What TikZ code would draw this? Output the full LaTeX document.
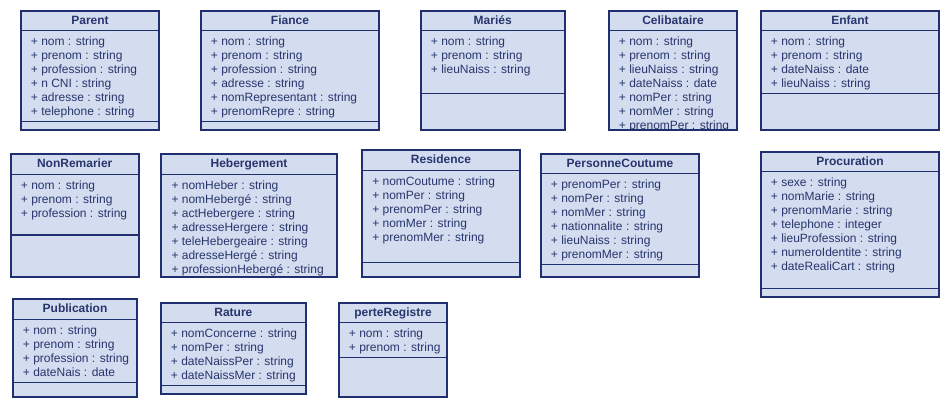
\documentclass[tikz,border=0pt]{standalone}
\usepackage{fontspec}
\setmainfont{Liberation Sans}
\usepackage{xcolor,tikz}
\usetikzlibrary{positioning}
\definecolor{umlfill}{HTML}{D4DDF0}
\definecolor{umlline}{HTML}{1F2F6F}
\definecolor{umltext}{HTML}{28356C}
\tikzset{classbody/.style={fill=umlfill},
  classframe/.style={draw=umlline,line width=1.4pt},
  classrule/.style={draw=umlline,line width=1pt},
  classtitle/.style={anchor=base,inner sep=0pt,text=umltext,font=\fontsize{9}{10.5}\selectfont\bfseries},
  attr/.style={anchor=base west,inner sep=0pt,text=umltext,font=\fontsize{9}{10.5}\selectfont}}

\begin{document}
\begin{tikzpicture}[x=0.75pt,y=-0.75pt]
\useasboundingbox (0,0) rectangle (951,409);
\foreach \nm/\xa/\ya/\xb/\yb/\yh/\ys/\ttl/\attrs in {
 parent/20.7/10.7/159.3/130/30.7/121.3/Parent/{+ nom : string,+ prenom : string,+ profession : string,+ n CNI : string,+ adresse : string,+ telephone : string},
 fiance/200.7/10.7/379.3/130/30.7/121.3/Fiance/{+ nom : string,+ prenom : string,+ profession : string,+ adresse : string,+ nomRepresentant : string,+ prenomRepre : string},
 maries/420.7/10.7/564.7/130/30.7/93.3/Mariés/{+ nom : string,+ prenom : string,+ lieuNaiss : string},
 celib/608.7/10.7/737.3/130/30.7/130/Celibataire/{+ nom : string,+ prenom : string,+ lieuNaiss : string,+ dateNaiss : date,+ nomPer : string,+ nomMer : string,+ prenomPer : string},
 enfant/760.7/10.7/939.3/130/30.7/93.3/Enfant/{+ nom : string,+ prenom : string,+ dateNaiss : date,+ lieuNaiss : string},
 nonremar/10.7/154.3/138.7/277.3/174.3/235/NonRemarier/{+ nom : string,+ prenom : string,+ profession : string},
 heberg/161.3/154.3/336.7/277.3/174.3/277.3/Hebergement/{+ nomHeber : string,+ nomHebergé : string,+ actHebergere : string,+ adresseHergere : string,+ teleHebergeaire : string,+ adresseHergé : string,+ professionHebergé : string},
 resid/362/150.3/520/277/170.3/262.3/Residence/{+ nomCoutume : string,+ nomPer : string,+ prenomPer : string,+ nomMer : string,+ prenomMer : string},
 perscout/540.7/153.7/699.3/277/173.7/264.3/PersonneCoutume/{+ prenomPer : string,+ nomPer : string,+ nomMer : string,+ nationnalite : string,+ lieuNaiss : string,+ prenomMer : string},
 procur/760.7/151.7/939.3/297/171.7/288.3/Procuration/{+ sexe : string,+ nomMarie : string,+ prenomMarie : string,+ telephone : integer,+ lieuProfession : string,+ numeroIdentite : string,+ dateRealiCart : string},
 public/12.7/299.3/137.3/397.3/319.3/382.7/Publication/{+ nom : string,+ prenom : string,+ profession : string,+ dateNais : date},
 rature/160.7/302.7/306/394/322.7/385.3/Rature/{+ nomConcerne : string,+ nomPer : string,+ dateNaissPer : string,+ dateNaissMer : string},
 perte/338.7/302.7/447.3/397.3/322.7/357.3/perteRegistre/{+ nom : string,+ prenom : string}} {
 \fill[classbody] (\xa,\ya) rectangle (\xb,\yb);
 \begin{scope}
 \clip (\xa,\ya) rectangle (\xb,\yb);
 \node[classtitle] (\nm) at ({(\xa+\xb)/2},{(\ya+\yh)/2+3.6}) {\ttl};
 \foreach \a [count=\k from 0] in \attrs {
   \node[attr] (\nm-\k) at (\xa+10,\yh+15+14*\k) {\a};}
 \end{scope}
 \draw[classrule] (\xa,\yh) -- (\xb,\yh);
 \draw[classrule] (\xa,\ys) -- (\xb,\ys);
 \draw[classframe] (\xa,\ya) rectangle (\xb,\yb);}
\end{tikzpicture}
\end{document}
